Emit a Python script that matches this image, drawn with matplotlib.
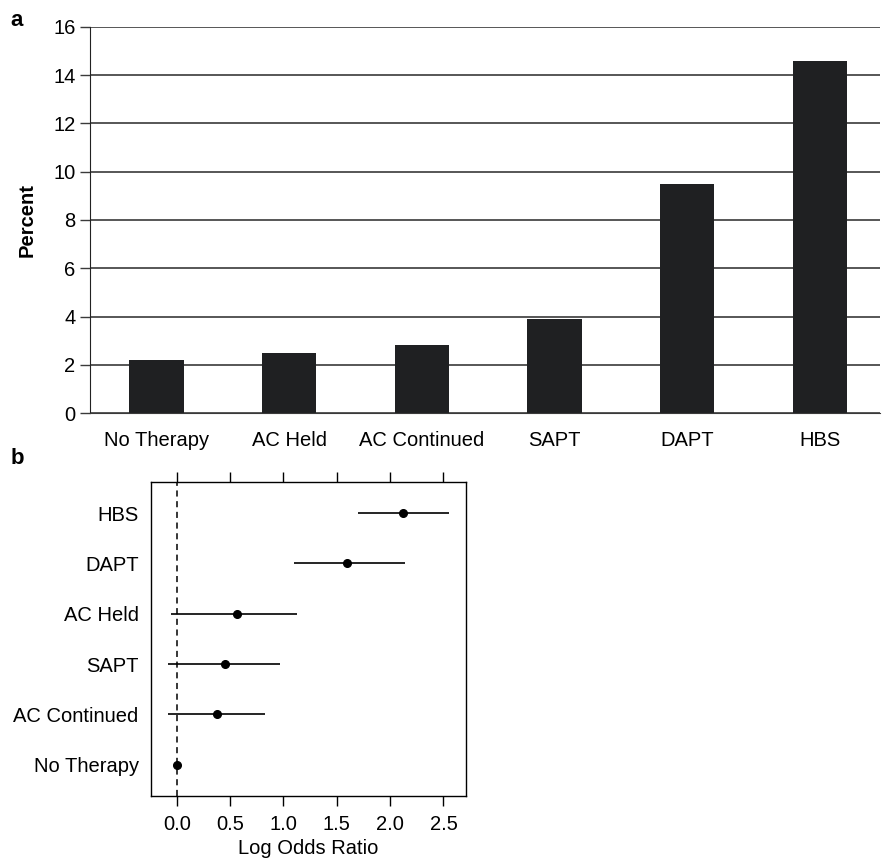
import numpy as np
import matplotlib.pyplot as plt

plt.rcParams['font.family'] = ['Liberation Sans', 'DejaVu Sans']

# panel a: percent by group
groups = ["No Therapy", "AC Held", "AC Continued", "SAPT", "DAPT", "HBS"]
percent = [2.2, 2.5, 2.8, 3.9, 9.5, 14.6]

# panel b: log odds ratios with intervals (bottom to top)
or_labels = ["No Therapy", "AC Continued", "SAPT", "AC Held", "DAPT", "HBS"]
log_or = [0.0, 0.38, 0.45, 0.56, 1.60, 2.12]
ci_lo = [0.0, -0.08, -0.08, -0.05, 1.10, 1.70]
ci_hi = [0.0, 0.83, 0.97, 1.13, 2.14, 2.55]

fs = 14.5
fig = plt.figure(figsize=(8.84, 8.58), dpi=100)

# ---- panel a ----
ax1 = fig.add_axes([0.102, 0.5186, 0.893, 0.45])
x = np.arange(len(groups))
ax1.set_axisbelow(True)
ax1.yaxis.grid(True, color="#3a3a3a", lw=1.2)
ax1.bar(x, percent, width=0.41, color="#1f2022")
ax1.set_ylim(0, 16)
ax1.set_yticks(range(0, 17, 2))
ax1.set_xlim(-0.5, 5.45)
ax1.set_xticks(x)
ax1.set_xticklabels(groups)
ax1.tick_params(axis="x", length=0, pad=13, labelsize=fs)
ax1.tick_params(axis="y", length=7, width=1.0, labelsize=fs, color="#3a3a3a")
for s in ["top", "right"]:
    ax1.spines[s].set_visible(False)
ax1.spines["left"].set_color("#222222")
ax1.spines["bottom"].set_color("#3a3a3a")
ax1.set_ylabel("Percent", fontsize=fs, fontweight="bold", labelpad=12)
fig.text(0.012, 0.988, "a", fontsize=16, fontweight="bold", va="top")

# ---- panel b ----
ax2 = fig.add_axes([0.171, 0.0723, 0.356, 0.366])
y = np.arange(1, len(or_labels) + 1)
ax2.axvline(0, color="black", ls=(0, (4, 3)), lw=1.1)
err = [np.array(log_or) - np.array(ci_lo), np.array(ci_hi) - np.array(log_or)]
ax2.errorbar(log_or, y, xerr=err, fmt="o", color="black", ms=5.5, lw=1.2, capsize=0)
ax2.set_xlim(-0.24, 2.71)
ax2.set_ylim(0.38, 6.62)
ax2.set_xticks([0.0, 0.5, 1.0, 1.5, 2.0, 2.5])
ax2.set_xticklabels(["0.0", "0.5", "1.0", "1.5", "2.0", "2.5"])
ax2.set_yticks(y)
ax2.set_yticklabels(or_labels)
ax2.tick_params(axis="y", length=0, pad=9, labelsize=fs)
ax2.tick_params(axis="x", direction="out", length=7, width=1.0, labelsize=fs,
                top=True, labeltop=False, pad=7)
for s in ax2.spines.values():
    s.set_linewidth(1.0)
ax2.set_xlabel("Log Odds Ratio", fontsize=fs, labelpad=3)
fig.text(0.012, 0.478, "b", fontsize=16, fontweight="bold", va="top")

fig.savefig("out.png", dpi=100)
